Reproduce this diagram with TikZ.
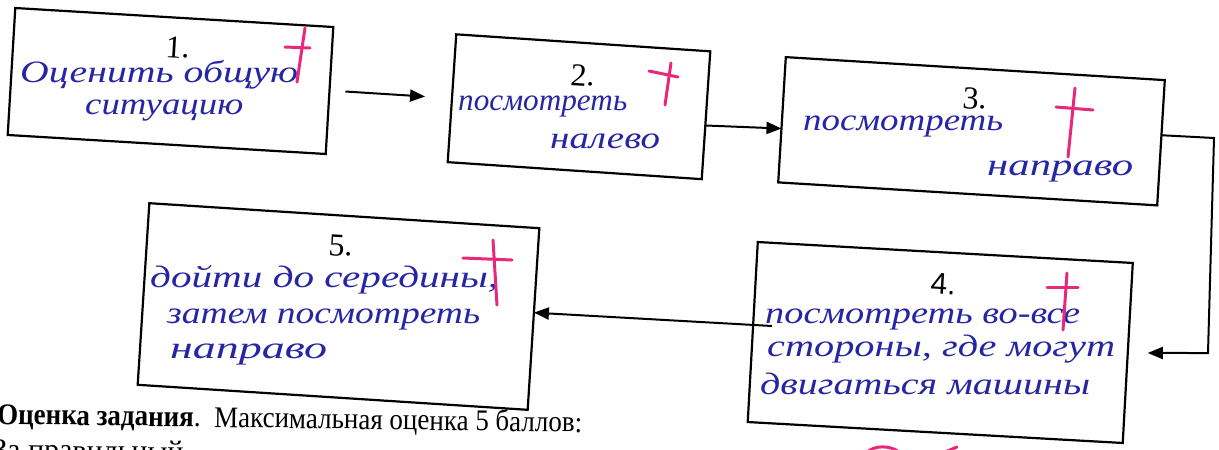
\documentclass[tikz,border=0pt]{standalone}
\usepackage{graphicx}
\usepackage{fontspec}
\setmainfont{Liberation Serif}
\newfontfamily\arialfont{Liberation Sans}
\usetikzlibrary{arrows.meta,calc}
\definecolor{ink}{RGB}{38,38,165}
\definecolor{redpen}{RGB}{232,40,120}
\newcommand\hwline[5]{\node[hand] (#1) at (#2,#3) {\resizebox{#4pt}{\height}{#5}};}
\begin{document}
\begin{tikzpicture}[x=1pt,y=-1pt,
  box/.style={draw, line width=2.2pt, inner sep=0pt, outer sep=0pt},
  conn/.style={line width=2pt, -{Triangle[length=15pt,width=12pt]}},
  hand/.style={text=ink, font=\fontsize{31}{31}\selectfont\itshape, inner sep=0pt, anchor=base west},
  num/.style={font=\fontsize{32}{32}\selectfont, inner sep=0pt, anchor=base west},
  cross/.style={redpen, line width=3pt, line cap=round},
  note/.style={font=\fontsize{30}{30}\selectfont, inner sep=0pt, anchor=base west}]
\useasboundingbox (0,0) rectangle (1219,450);
\clip (0,0) rectangle (1219,450);
\fill[white] (0,0) rectangle (1219,450);

% boxes
\node[box, minimum width=318.6pt, minimum height=127.2pt, rotate=-3.42] (b1) at (170.5,81) {};
\node[box, minimum width=254.6pt, minimum height=128.1pt, rotate=-3.83] (b2) at (579,106.75) {};
\node[box, minimum width=379.7pt, minimum height=125.5pt, rotate=-3.47] (b3) at (971.5,131.25) {};
\node[box, minimum width=375.6pt, minimum height=180.3pt, rotate=-3.2] (b4) at (940.25,342.5) {};
\node[box, minimum width=390.8pt, minimum height=182pt, rotate=-3.67] (b5) at (338.5,306.5) {};

% numbers
\node[num, rotate=-3.5] (n1) at (165,57) {1.};
\node[num, rotate=-3.5] (n2) at (570,85) {2.};
\node[num, rotate=-3.5] (n3) at (962,108) {3.};
\node[num, rotate=-3.5, font=\arialfont\fontsize{30}{30}\selectfont] (n4) at (930,293) {4.};
\node[num, rotate=-3.5] (n5) at (328,255) {5.};

% handwriting
\hwline{t1a}{20}{82}{278}{Оценить общую}
\hwline{t1b}{85}{114}{158}{ситуацию}
\hwline{t2a}{458}{110}{169}{посмотреть}
\hwline{t2b}{550}{148}{110}{налево}
\hwline{t3a}{803}{130}{200}{посмотреть}
\hwline{t3b}{987}{175}{146}{направо}
\hwline{t4a}{765}{323}{315}{посмотреть во-все}
\hwline{t4b}{767}{356}{348}{стороны, где могут}
\hwline{t4c}{760}{394}{330}{двигаться машины}
\hwline{t5a}{150}{287}{348}{дойти до середины,}
\hwline{t5b}{167}{323}{313}{затем посмотреть}
\hwline{t5c}{170}{358}{157}{направо}

% red crosses
\draw[cross] (305,28) -- (297,82); \draw[cross] (285,47) -- (310,48);
\draw[cross] (671,63) -- (665,105); \draw[cross] (649,71) -- (678,77);
\draw[cross] (1075,88) -- (1068,157); \draw[cross] (1056,107) -- (1093,110);
\draw[cross] (1067,273) -- (1063,330); \draw[cross] (1047,287) -- (1078,287);
\draw[cross] (493,240) -- (497,305); \draw[cross] (463,258) -- (512,260);
\draw[cross] (866,453) .. controls (874,445) and (890,445) .. (899,452);
\draw[cross] (945,452) -- (957,447);

% connectors
\draw[conn, shorten <=16pt, shorten >=27pt] (b1.east) -- (b2.west);
\draw[conn] ($(b2.east)!0.16!(b2.south east)$) -- ($(b3.west)!0.14!(b3.south west)$);
\coordinate (k1) at (1214,138);
\coordinate (k2) at (1208,353);
\draw[conn, shorten >=20pt] ($(b3.east)!0.12!(b3.north east)$) -- (k1) -- (k2) -- (b4.east);
\coordinate (s4) at (772,326);
\draw[conn] (s4) -- ($(b5.east)!0.07!(b5.north east)$);

% printed text below
\node[note, rotate=-0.8] (ev) at (-3,424) {\resizebox{585pt}{\height}{\textbf{Оценка задания}.\ \ Максимальная оценка 5 баллов:}};
\node[note, rotate=-0.8] (za) at (-8,459) {За правильный};
\end{tikzpicture}
\end{document}
